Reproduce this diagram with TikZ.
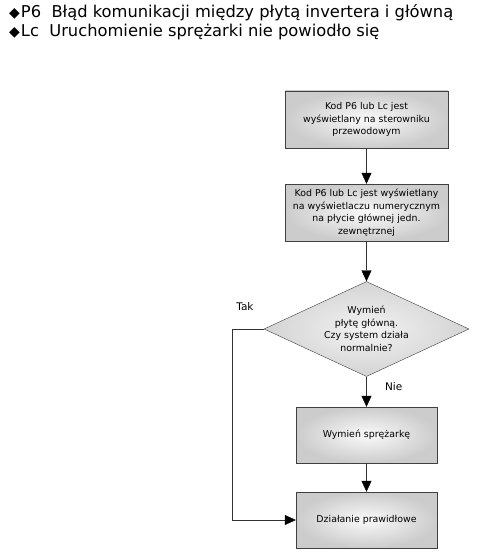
\documentclass[tikz,border=0pt]{standalone}
\usepackage{fontspec}
\setmainfont{DejaVu Sans}
\usetikzlibrary{shapes.geometric, arrows.meta, calc}

\begin{document}
\begin{tikzpicture}[node distance=93pt]
    \tikzstyle{process} = [rectangle, minimum width=163pt, minimum height=57pt, text centered, draw=black!75, shading=radial, inner color=gray!4, outer color=gray!40, align=center, inner sep=2pt, font=\fontsize{9.4}{12.5}\selectfont]
    \tikzstyle{smallprocess} = [process, minimum width=141pt, minimum height=56pt]
    \tikzstyle{decision} = [diamond, aspect=2.16, minimum width=205pt, minimum height=95pt, inner sep=0pt, text centered, draw=black!75, shading=radial, inner color=gray!10, outer color=gray!34, align=center, font=\fontsize{9.4}{12.5}\selectfont]
    \tikzstyle{arrow} = [thin, draw=black!80, -{Triangle[length=11pt,width=10pt,color=black]}]
    \tikzstyle{line} = [thin, draw=black!80]
    \tikzstyle{answer} = [font=\fontsize{10.5}{12}\selectfont]
    \tikzstyle{heading} = [anchor=base west, inner sep=0pt, font=\fontsize{16.3}{19}\selectfont]
    \useasboundingbox (0,0) rectangle (482pt,-559pt);
    % Heading
    \node (headpsix) [heading] at (9pt,-18pt) {{\fontsize{14}{14}\selectfont ◆}\hspace{1pt}P6\ \ Błąd komunikacji między płytą invertera i główną};
    \node (headlc) [heading] at (9pt,-37pt) {{\fontsize{14}{14}\selectfont ◆}\hspace{1pt}Lc\ \ Uruchomienie sprężarki nie powiodło się};
    % Nodes
    \node (wired) [process] at (366.5pt,-119.5pt) {Kod P6 lub Lc jest\\ wyświetlany na sterowniku\\ przewodowym};
    \node (outdoor) [process, below of=wired] {Kod P6 lub Lc jest wyświetlany\\ na wyświetlaczu numerycznym\\ na płycie głównej jedn.\\ zewnętrznej};
    \node (mainboard) [decision, below of=outdoor, yshift=-23.5pt] {Wymień\\ płytę główną.\\ Czy system działa\\ normalnie?};
    \node (compressor) [smallprocess, below of=mainboard, yshift=-13pt] {Wymień sprężarkę};
    \node (normal) [smallprocess, below of=compressor, yshift=8pt] {Działanie prawidłowe};
    % Arrows
    \draw [arrow] (wired) -- (outdoor);
    \draw [arrow] (outdoor) -- (mainboard);
    \draw [arrow] (mainboard) -- node[answer, right, pos=0.32, xshift=15pt] (nie) {Nie} (compressor);
    \draw [arrow] (compressor) -- (normal);
    \coordinate (takturn) at ($(mainboard.west) + (-32pt,0pt)$);
    \draw [line] (mainboard.west) -- node[answer, above, pos=0.59, yshift=15pt] (tak) {Tak} (takturn);
    \draw [arrow] (takturn) -- (takturn |- normal) -- (normal);
\end{tikzpicture}
\end{document}
